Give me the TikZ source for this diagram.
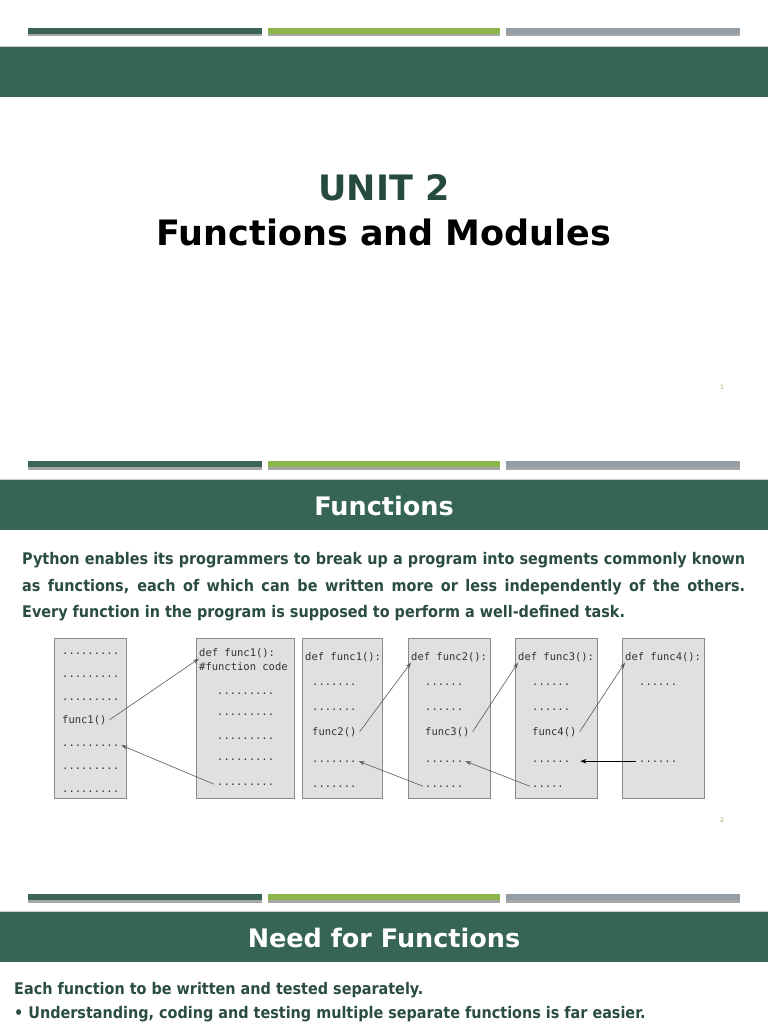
\documentclass[tikz,border=0pt]{standalone}
\usepackage{fontspec}
\setmainfont{DejaVu Sans}
\newfontfamily\condfont{DejaVu Sans Condensed}[BoldFont={DejaVu Sans Condensed Bold}]
\newfontfamily\codefont{DejaVu Sans Mono}
\usetikzlibrary{arrows.meta}
\definecolor{bannergreen}{HTML}{376555}
\definecolor{bardark}{HTML}{3A6457}
\definecolor{barlime}{HTML}{8DB64A}
\definecolor{bargrey}{HTML}{959DA5}
\definecolor{txtgreen}{HTML}{2B4D40}
\definecolor{unitgreen}{HTML}{264A3E}
\definecolor{boxfill}{HTML}{E0E0E0}
\definecolor{boxline}{HTML}{8A8A8A}
\definecolor{pagenum}{HTML}{8DB64A}
\tikzset{
  barshadow/.style={fill=black!35, draw=none},
  banner/.style={fill=bannergreen, draw=none},
  codebox/.style={fill=boxfill, draw=boxline, line width=0.8pt},
  code/.style={inner sep=0pt, anchor=base west, font=\codefont\fontsize{10.5}{12}\selectfont, text=black!80},
  callarrow/.style={draw=black!65, line width=0.6pt, -{Stealth[length=6pt,width=4pt]}},
  retarrow/.style={draw=black, line width=0.9pt, -{Stealth[length=6pt,width=4.5pt]}},
  bannertitle/.style={text=white, font=\bfseries\fontsize{25.5}{30}\selectfont},
  bodytext/.style={inner sep=0pt, anchor=base west, text=txtgreen, font=\condfont\bfseries\fontsize{16}{18}\selectfont},
  pnum/.style={text=pagenum, font=\fontsize{6}{7}\selectfont}
}
\newcommand{\topbars}[1]{%
  \fill[barshadow] (28,#1+1.5) rectangle (262,#1+8.5);
  \fill[barshadow] (268,#1+1.5) rectangle (500,#1+8.5);
  \fill[barshadow] (506,#1+1.5) rectangle (740,#1+8.5);
  \fill[bardark] (28,#1) rectangle (262,#1+6);
  \fill[barlime] (268,#1) rectangle (500,#1+6);
  \fill[bargrey] (506,#1) rectangle (740,#1+6);
}
\begin{document}
\begin{tikzpicture}[x=1pt,y=-1pt]
\useasboundingbox (0,0) rectangle (768,1024);
\fill[white] (0,0) rectangle (768,1024);

% ---------- slide 1 ----------
\topbars{28}
\fill[banner] (0,47) rectangle (768,97);
\draw[black!20, line width=0.5pt] (0,46.5) -- (768,46.5);
\node[text=unitgreen, font=\bfseries\fontsize{35}{40}\selectfont] (unit) at (384,188) {UNIT 2};
\node[text=black, font=\bfseries\fontsize{35}{40}\selectfont] (ftitle) at (384,232) {Functions and Modules};
\node[pnum] (p1) at (722,387) {1};

% ---------- slide 2 ----------
\topbars{461}
\fill[banner] (0,480) rectangle (768,530);
\draw[black!20, line width=0.5pt] (0,479.5) -- (768,479.5);
\node[bannertitle] (t2) at (384,506) {Functions};

\node[bodytext] (l1) at (22,564) {\makebox[723pt][s]{Python enables its programmers to break up a program into segments commonly known}};
\node[bodytext] (l2) at (22,591) {\makebox[723pt][s]{as functions, each of which can be written more or less independently of the others.}};
\node[bodytext] (l3) at (22,617) {Every function in the program is supposed to perform a well-defined task.};

% boxes
\draw[codebox] (54,638) rectangle (126,798);
\draw[codebox] (196,638) rectangle (294,798);
\draw[codebox] (302,638) rectangle (382,798);
\draw[codebox] (408,638) rectangle (490,798);
\draw[codebox] (515,638) rectangle (597,798);
\draw[codebox] (622,638) rectangle (704,798);

% box 1
\node[code] (a1) at (62,654) {.........};
\node[code] (a2) at (62,677) {.........};
\node[code] (a3) at (62,700) {.........};
\node[code] (acall) at (62,723) {func1()};
\node[code] (a5) at (62,746) {.........};
\node[code] (a6) at (62,769) {.........};
\node[code] (a7) at (62,792) {.........};

% box 2
\node[code] (bdef) at (199,656) {def func1():};
\node[code] (bcom) at (199,670) {\#function code};
\node[code] (b1) at (217,694) {.........};
\node[code] (b2) at (217,715) {.........};
\node[code] (b3) at (217,739) {.........};
\node[code] (b4) at (217,760) {.........};
\node[code] (b5) at (217,785) {.........};

% box 3
\node[code] (cdef) at (305,660) {def func1():};
\node[code] (c1) at (312,685) {.......};
\node[code] (c2) at (312,710) {.......};
\node[code] (ccall) at (312,735) {func2()};
\node[code] (c4) at (312,762) {.......};
\node[code] (c5) at (312,787) {.......};

% box 4
\node[code] (ddef) at (411,660) {def func2():};
\node[code] (d1) at (425,685) {......};
\node[code] (d2) at (425,710) {......};
\node[code] (dcall) at (425,735) {func3()};
\node[code] (d4) at (425,762) {......};
\node[code] (d5) at (425,787) {......};

% box 5
\node[code] (edef) at (518,660) {def func3():};
\node[code] (e1) at (532,685) {......};
\node[code] (e2) at (532,710) {......};
\node[code] (ecall) at (532,735) {func4()};
\node[code] (e4) at (532,762) {......};
\node[code] (e5) at (532,787) {.....};

% box 6
\node[code] (fdef) at (625,660) {def func4():};
\node[code] (f1) at (639,685) {......};
\node[code] (f4) at (639,762) {......};

% arrows
\draw[callarrow] ([xshift=3pt]acall.east) -- ([yshift=-1pt]bdef.south west);
\draw[callarrow] ([xshift=-3pt]b5.west) -- ([xshift=2pt]a5.east);
\draw[callarrow] ([xshift=3pt]ccall.east) -- ([yshift=-1pt]ddef.south west);
\draw[callarrow] ([xshift=-2pt]d5.west) -- ([xshift=2pt]c4.east);
\draw[callarrow] ([xshift=3pt]dcall.east) -- ([yshift=-1pt]edef.south west);
\draw[callarrow] ([xshift=-2pt]e5.west) -- ([xshift=2pt]d4.east);
\draw[callarrow] ([xshift=3pt]ecall.east) -- ([yshift=-1pt]fdef.south west);
\draw[retarrow] ([xshift=-3pt]f4.west) -- ([xshift=10pt]e4.east);

\node[pnum] (p2) at (722,820) {2};

% ---------- slide 3 ----------
\topbars{894}
\fill[banner] (0,912) rectangle (768,962);
\draw[black!20, line width=0.5pt] (0,911.5) -- (768,911.5);
\node[bannertitle] (t3) at (384,938) {Need for Functions};
\node[bodytext] (m1) at (14,994) {Each function to be written and tested separately.};
\node[bodytext] (m2) at (14,1018) {• Understanding, coding and testing multiple separate functions is far easier.};
\end{tikzpicture}
\end{document}
